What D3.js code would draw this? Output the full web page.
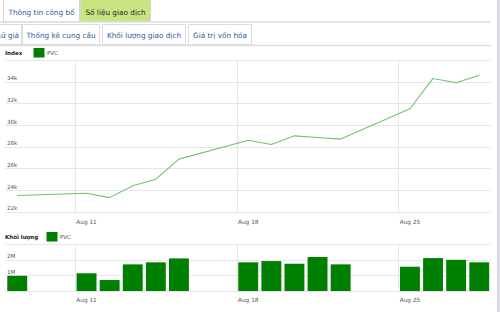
<!DOCTYPE html>
<html lang="vi">
<head>
<meta charset="UTF-8">
<title>PVC</title>
<script src="https://d3js.org/d3.v7.min.js"></script>
<style>
  body { margin: 0; background: #fff; }
  svg { display: block; font-family: "DejaVu Sans", Verdana, sans-serif; }
</style>
</head>
<body>
<svg id="chart"></svg>
<script>
    const width = 500;
    const height = 312;

    // trading days (2014) and values
    var days = ["2014-08-08", "2014-08-11", "2014-08-12", "2014-08-13", "2014-08-14", "2014-08-15",
                "2014-08-18", "2014-08-19", "2014-08-20", "2014-08-21", "2014-08-22",
                "2014-08-25", "2014-08-26", "2014-08-27", "2014-08-28"]
    var indexValues = [23500, 23700, 23300, 24400, 25000, 26850,
                       28600, 28200, 29000, 28850, 28700,
                       31500, 34300, 33900, 34600]
    var volumeValues = [0.97, 1.13, 0.70, 1.70, 1.83, 2.08,
                        1.83, 1.91, 1.74, 2.17, 1.70,
                        1.55, 2.10, 1.99, 1.83]   // millions
    var indexTicks = [22000, 24000, 26000, 28000, 30000, 32000, 34000, 36000]
    var volumeTicks = [0, 1, 2, 3]
    var dateTicks = ["2014-08-11", "2014-08-18", "2014-08-25"]
    var topTabs = ["Thông tin công bố", "Số liệu giao dịch"]
    var subTabs = ["Lịch sử giá", "Thống kê cung cầu", "Khối lượng giao dịch", "Giá trị vốn hóa"]

    const parse = d3.utcParse("%Y-%m-%d");
    const data = days.map((d, i) => ({date: parse(d), index: indexValues[i], vol: volumeValues[i]}));
    const ticks = dateTicks.map(parse);

    const svg = d3.select("#chart").attr("width", width).attr("height", height);

    // ---- tabs ----
    const tab1 = [{x: 3, w: 76}, {x: 80, w: 70}];
    topTabs.forEach((t, i) => {
        svg.append("rect")
            .attr("x", tab1[i].x + 0.5).attr("y", -2)
            .attr("width", tab1[i].w).attr("height", 23.5)
            .attr("fill", i == 1 ? "#c9e582" : "#fff")
            .attr("stroke", "#d6d6d6");
        svg.append("text")
            .attr("x", tab1[i].x + tab1[i].w / 2 + 0.5).attr("y", 15)
            .attr("text-anchor", "middle")
            .attr("font-size", 7.3)
            .attr("fill", i == 1 ? "#222" : "#2b5d9c")
            .text(t);
    });
    svg.append("line").attr("x1", 0).attr("x2", 491).attr("y1", 22).attr("y2", 22)
        .attr("stroke", "#dedede").attr("stroke-width", 1.5);

    // first sub tab is scrolled partly out of view, as in the page
    const tab2 = [{x: -60, w: 81}, {x: 22, w: 77}, {x: 102, w: 83}, {x: 188, w: 63}];
    subTabs.forEach((t, i) => {
        svg.append("rect")
            .attr("x", tab2[i].x + 0.5).attr("y", 24.5)
            .attr("width", tab2[i].w).attr("height", 20)
            .attr("fill", "#fff")
            .attr("stroke", "#dcdcdc");
        svg.append("text")
            .attr("x", i == 0 ? tab2[i].x + tab2[i].w - 2 : tab2[i].x + tab2[i].w / 2 + 0.5)
            .attr("y", 37.5)
            .attr("text-anchor", i == 0 ? "end" : "middle")
            .attr("font-size", 7.3)
            .attr("fill", "#2b5d9c")
            .text(t);
    });
    svg.append("line").attr("x1", 0).attr("x2", 491).attr("y1", 45.5).attr("y2", 45.5)
        .attr("stroke", "#dedede").attr("stroke-width", 1.5);

    // right side bar
    svg.append("rect").attr("x", 497).attr("y", 0).attr("width", 3).attr("height", height)
        .attr("fill", "#d9d9e3");

    // ---- scales ----
    const x = d3.scaleUtc()
        .domain([parse("2014-08-08"), parse("2014-08-29")])
        .range([5.7, 490.8]);
    const mid = d => d3.utcHour.offset(d, 12);

    const y = d3.scaleLinear().domain([22000, 36000]).range([211.7, 60]);
    const yv = d3.scaleLinear().domain([0, 3]).range([291, 244]);

    function legend(label, ly) {
        svg.append("text").attr("x", 5).attr("y", ly + 2)
            .attr("font-size", 5.5).attr("font-weight", "bold").attr("fill", "#222")
            .text(label.t);
        svg.append("rect").attr("x", label.sx).attr("y", ly - 4.5)
            .attr("width", 11).attr("height", 9.5).attr("fill", "#008000");
        svg.append("text").attr("x", label.sx + 13.5).attr("y", ly + 2)
            .attr("font-size", 5.5).attr("fill", "#555").text("PVC");
    }

    function grid(scale, vals, x0, x1) {
        svg.append("g")
            .selectAll("line").data(vals).join("line")
            .attr("x1", x0).attr("x2", x1)
            .attr("y1", d => Math.round(scale(d)) + 0.5).attr("y2", d => Math.round(scale(d)) + 0.5)
            .attr("stroke", "#e6e6e6").attr("stroke-width", 1.2);
    }

    function vgrid(top, bottom) {
        svg.append("g")
            .selectAll("line").data(ticks).join("line")
            .attr("x1", d => Math.round(x(d)) + 0.5).attr("x2", d => Math.round(x(d)) + 0.5)
            .attr("y1", top).attr("y2", bottom)
            .attr("stroke", "#e6e6e6").attr("stroke-width", 1.2);
    }

    function dateLabels(ly) {
        svg.append("g")
            .selectAll("text").data(ticks).join("text")
            .attr("x", d => x(mid(d)))
            .attr("y", ly)
            .attr("text-anchor", "middle")
            .attr("font-size", 5.8).attr("fill", "#555")
            .text(d3.utcFormat("%b %d"));
    }

    // ---- index line chart ----
    legend({t: "Index", sx: 33.5}, 52.5);
    grid(y, indexTicks, 5, 491);
    vgrid(60, 212);
    dateLabels(223.5);

    svg.append("path")
        .datum(data)
        .attr("fill", "none")
        .attr("stroke", "#6fc46f")
        .attr("stroke-width", 1.1)
        .attr("stroke-linejoin", "round")
        .attr("d", d3.line().x(d => x(mid(d.date))).y(d => y(d.index)));

    svg.append("g")
        .selectAll("text").data(indexTicks.slice(0, -1)).join("text")
        .attr("x", 7).attr("y", d => y(d) - 1.3)
        .attr("font-size", 5.6).attr("fill", "#555")
        .text(d => d / 1000 + "k");

    // ---- volume bar chart ----
    legend({t: "Khối lượng", sx: 46.5}, 236.5);
    grid(yv, volumeTicks, 5, 491);
    vgrid(244, 291);

    svg.append("g")
        .selectAll("rect").data(data).join("rect")
        .attr("x", d => x(d.date) + 1.6)
        .attr("width", d => x(d3.utcDay.offset(d.date, 1)) - x(d.date) - 3.2)
        .attr("y", d => yv(d.vol))
        .attr("height", d => yv(0) - yv(d.vol))
        .attr("fill", "#008000");

    svg.append("g")
        .selectAll("text").data(volumeTicks.slice(0, -1)).join("text")
        .attr("x", 7).attr("y", d => yv(d) - 1.5)
        .attr("font-size", 5.6).attr("fill", "#555")
        .text(d => d == 0 ? "0" : d + "M");

    dateLabels(302);
</script>
</body>
</html>
